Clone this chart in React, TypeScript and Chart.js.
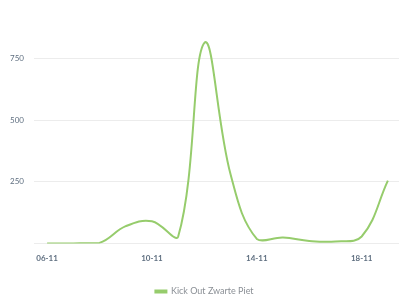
import React, { useEffect, useRef } from "react";
import { Chart, registerables } from "chart.js";

Chart.register(...registerables);

const categories = ["06-11", "07-11", "08-11", "09-11", "10-11", "11-11", "12-11", "13-11", "14-11", "15-11", "16-11", "17-11", "18-11", "19-11"];
const seriesName = "Kick Out Zwarte Piet";
const seriesValues = [0, 0, 2, 70, 90, 28, 815, 280, 18, 24, 10, 8, 28, 255];
const yTicks = [0, 250, 500, 750];

export default function App() {
  const ref = useRef<HTMLCanvasElement | null>(null);
  useEffect(() => {
    if (!ref.current) return;
    const green = "#96cc6c";
    const chart = new Chart(ref.current, {
      type: "line",
      data: {
        labels: categories,
        datasets: [
          {
            label: seriesName,
            data: seriesValues,
            borderColor: green,
            backgroundColor: green,
            borderWidth: 2,
            pointRadius: 0,
            tension: 0.4,
            fill: false,
          },
        ],
      },
      options: {
        animation: false,
        responsive: true,
        maintainAspectRatio: false,
        layout: { padding: { top: 22, left: 8, right: 0, bottom: 0 } },
        plugins: {
          legend: {
            position: "bottom",
            labels: {
              boxWidth: 11,
              boxHeight: 2,
              color: "#8a8f95",
              font: { family: "Lato", size: 9 },
              padding: 14,
            },
          },
          tooltip: { enabled: false },
        },
        scales: {
          x: {
            offset: true,
            grid: { display: false, drawTicks: false },
            border: { display: false },
            ticks: {
              autoSkip: false,
              maxRotation: 0,
              padding: 10,
              color: "#5f6f80",
              font: { family: "Lato", size: 8, weight: "bold" },
              callback: (_v: any, i: number) => (i % 4 === 0 ? categories[i] : ""),
            },
          },
          y: {
            min: 0,
            max: 900,
            afterBuildTicks: (axis: any) => {
              axis.ticks = yTicks.map((v) => ({ value: v }));
            },
            afterFit: (axis: any) => {
              axis.width = 26;
            },
            grid: { color: "#ececec", drawTicks: false },
            border: { display: false },
            ticks: {
              padding: 10,
              color: "#5f6f80",
              font: { family: "Lato", size: 8 },
              callback: (v: any) => (v === 0 ? "" : String(v)),
            },
          },
        },
      },
    });
    return () => chart.destroy();
  }, []);
  return (
    <div style={{ position: "fixed", left: 0, top: 0, width: 401, height: 306, background: "#fff" }}>
      <canvas ref={ref} />
    </div>
  );
}
